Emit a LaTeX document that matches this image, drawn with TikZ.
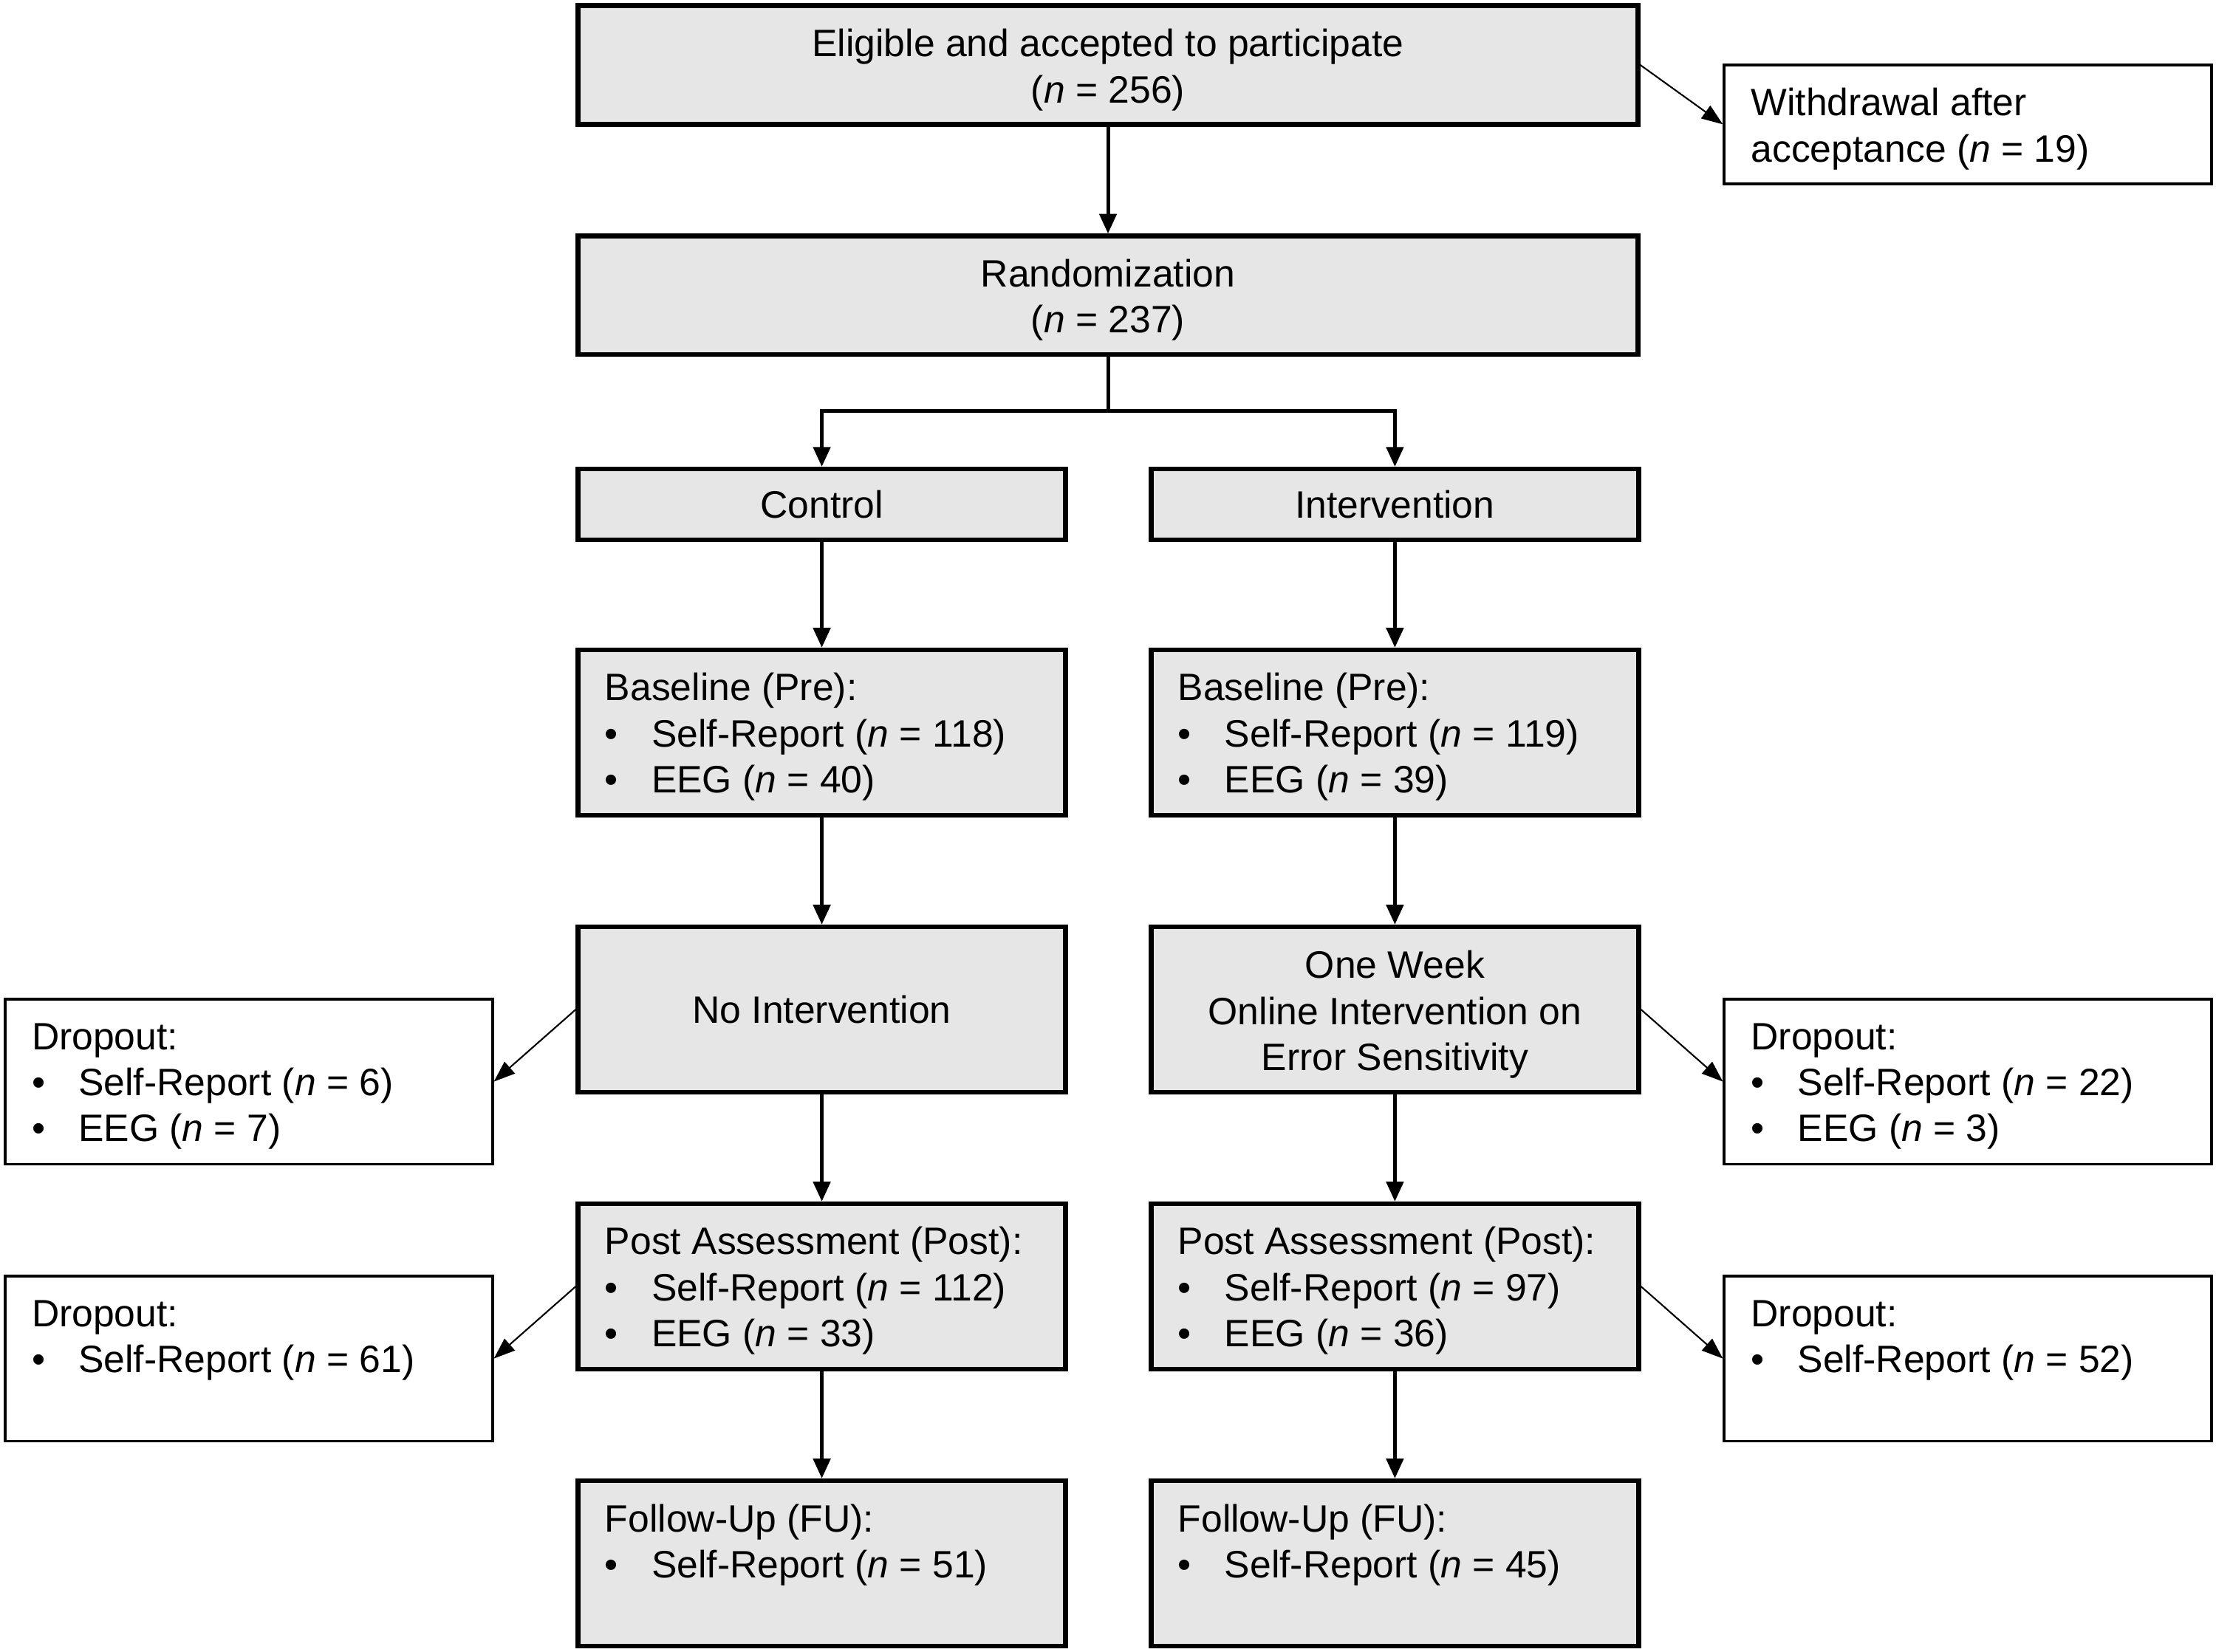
\documentclass[tikz,border=0pt]{standalone}
\usepackage{fontspec}
\setmainfont{Liberation Sans}
\usetikzlibrary{arrows.meta}
\definecolor{boxgray}{HTML}{E6E6E6}
\newcommand{\itemline}[1]{\makebox[33pt][l]{\textbullet}#1}
\newcommand{\nn}{\textit{n}}
\newcommand{\tbox}[3]{\parbox[c][#1][t]{307pt}{\rule{0pt}{#2}#3}}
\newcommand{\lift}{\rule{0pt}{26.5pt}}
\begin{document}
\begin{tikzpicture}[x=1pt,y=-1pt,
  font=\fontsize{27}{32.5}\selectfont,
  gbox/.style={draw, fill=boxgray, line width=3.3pt, inner sep=0pt, align=center},
  lbox/.style={draw, fill=boxgray, line width=3.3pt, inner xsep=19pt, inner ysep=0pt, minimum width=345pt},
  wbox/.style={draw, fill=white, line width=1.9pt, inner xsep=19pt, inner ysep=0pt, minimum width=345pt},
  mainarrow/.style={line width=2.6pt, -{Triangle[length=14pt,width=12pt]}},
  sidearrow/.style={line width=1.1pt, -{Triangle[length=15pt,width=11pt]}}]
\useasboundingbox (0,0) rectangle (1568,1169);

\node[gbox, minimum width=750pt, minimum height=84pt] (top) at (784,46)
  {\lift Eligible and accepted to participate\\(\nn{} = 256)};
\node[wbox] (withdraw) at (1392.5,88)
  {\tbox{84pt}{36pt}{Withdrawal after\\acceptance (\nn{} = 19)}};
\node[gbox, minimum width=750pt, minimum height=84pt] (rand) at (784,209)
  {\lift Randomization\\(\nn{} = 237)};

\node[gbox, minimum width=345pt, minimum height=50pt] (ctrl) at (581.5,357) {Control};
\node[gbox, minimum width=345pt, minimum height=50pt] (intv) at (987,357) {Intervention};

\node[lbox] (cbase) at (581.5,518.5)
  {\tbox{117pt}{36pt}{Baseline (Pre):\\\itemline{Self-Report (\nn{} = 118)}\\\itemline{EEG (\nn{} = 40)}}};
\node[lbox] (ibase) at (987,518.5)
  {\tbox{117pt}{36pt}{Baseline (Pre):\\\itemline{Self-Report (\nn{} = 119)}\\\itemline{EEG (\nn{} = 39)}}};

\node[gbox, minimum width=345pt, minimum height=117pt] (cnoint) at (581.5,714.5) {No Intervention};
\node[gbox, minimum width=345pt, minimum height=117pt] (inoint) at (987,714.5)
  {\lift One Week\\Online Intervention on\\Error Sensitivity};

\node[wbox] (dropAL) at (176,765.5)
  {\tbox{117pt}{36pt}{Dropout:\\\itemline{Self-Report (\nn{} = 6)}\\\itemline{EEG (\nn{} = 7)}}};
\node[wbox] (dropAR) at (1392.5,765.5)
  {\tbox{117pt}{36pt}{Dropout:\\\itemline{Self-Report (\nn{} = 22)}\\\itemline{EEG (\nn{} = 3)}}};

\node[lbox] (cpost) at (581.5,910.5)
  {\tbox{117pt}{36pt}{Post Assessment (Post):\\\itemline{Self-Report (\nn{} = 112)}\\\itemline{EEG (\nn{} = 33)}}};
\node[lbox] (ipost) at (987,910.5)
  {\tbox{117pt}{36pt}{Post Assessment (Post):\\\itemline{Self-Report (\nn{} = 97)}\\\itemline{EEG (\nn{} = 36)}}};

\node[wbox] (dropBL) at (176,961.5)
  {\tbox{117pt}{36pt}{Dropout:\\\itemline{Self-Report (\nn{} = 61)}}};
\node[wbox] (dropBR) at (1392.5,961.5)
  {\tbox{117pt}{36pt}{Dropout:\\\itemline{Self-Report (\nn{} = 52)}}};

\node[lbox] (cfu) at (581.5,1106.5)
  {\tbox{117pt}{36pt}{Follow-Up (FU):\\\itemline{Self-Report (\nn{} = 51)}}};
\node[lbox] (ifu) at (987,1106.5)
  {\tbox{117pt}{36pt}{Follow-Up (FU):\\\itemline{Self-Report (\nn{} = 45)}}};

\coordinate (split) at (784,291);

\draw[mainarrow] (top) -- (rand);
\draw[line width=2.6pt] (rand.south) -- (split);
\draw[mainarrow] (split) -| (ctrl.north);
\draw[mainarrow] (split) -| (intv.north);
\draw[mainarrow] (ctrl) -- (cbase);
\draw[mainarrow] (intv) -- (ibase);
\draw[mainarrow] (cbase) -- (cnoint);
\draw[mainarrow] (ibase) -- (inoint);
\draw[mainarrow] (cnoint) -- (cpost);
\draw[mainarrow] (inoint) -- (ipost);
\draw[mainarrow] (cpost) -- (cfu);
\draw[mainarrow] (ipost) -- (ifu);

\draw[sidearrow] (top.east) -- (withdraw.west);
\draw[sidearrow] (cnoint.west) -- (dropAL.east);
\draw[sidearrow] (inoint.east) -- (dropAR.west);
\draw[sidearrow] (cpost.west) -- (dropBL.east);
\draw[sidearrow] (ipost.east) -- (dropBR.west);
\end{tikzpicture}
\end{document}
